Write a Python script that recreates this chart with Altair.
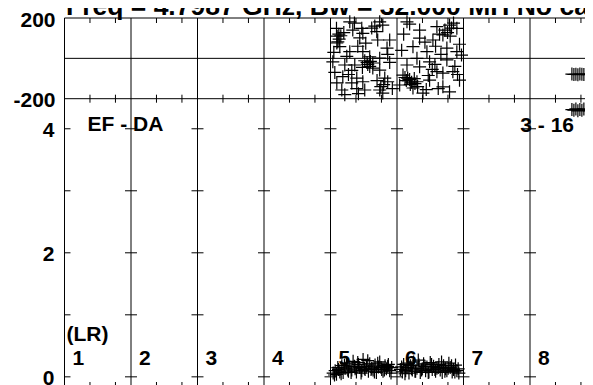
import altair as alt
import pandas as pd

FONT = "Liberation Sans"

# ---------------- data ----------------
segment_labels = ["1", "2", "3", "4", "5", "6", "7", "8"]
minor_tick_fracs = [0.383, 0.766]
amp_tick_values = [0, 1, 2, 3, 4]
amp_label_values = [0, 2, 4]
phase_label_values = [200, -200]
phase_lines = [200, 0, -200]

# (position within segment 0..1, phase in degrees)
seg5_phase = [(0.09, 149), (0.29, 181), (0.335, 140), (0.47, 149), (0.486, 124), (0.74, 181),
              (0.786, 165), (0.89, 91), (0.71, 91), (0.11, 82), (0.14, 58), (0.095, 76),
              (0.29, 33), (0.486, 33), (0.85, 51), (0.035, -17), (0.215, -33), (0.365, -33),
              (0.636, -23), (0.636, -48), (0.74, -58), (0.185, -91), (0.395, -98), (0.486, -116),
              (0.816, -98), (0.86, -116), (0.095, -122), (0.32, -122), (0.74, -157), (0.786, -172),
              (0.515, -157), (0.17, -157), (0.59, 8), (0.74, 1), (0.44, 101), (0.696, 132),
              (0.125, 120), (0.155, 112), (0.2, 128), (0.515, -12), (0.56, -30), (0.59, -40),
              (0.756, -140), (0.8, -130), (0.245, 10), (0.41, 60), (0.32, -60), (0.065, -70),
              (0.89, -20), (0.666, 160), (0.395, -150), (0.215, -180), (0.86, 20), (0.53, 75),
              (0.1, 110), (0.13, 95), (0.36, 175), (0.62, 150), (0.55, -20), (0.6, -15),
              (0.48, -45), (0.27, -80), (0.7, -110), (0.93, -150), (0.05, 30), (0.42, -175)]

seg6_phase = [(0.15, 181), (0.34, 140), (0.6, 157), (0.79, 165), (0.9, 149), (0.69, 116),
              (0.54, 91), (0.24, 58), (0.45, 33), (0.75, 51), (0.9, 33), (0.49, -17),
              (0.75, -8), (0.34, -42), (0.09, -83), (0.16, -98), (0.3, -116), (0.04, -132),
              (0.24, -147), (0.49, -108), (0.69, -73), (0.84, -66), (0.94, -108), (0.69, -141),
              (0.39, -172), (0.79, -166), (0.15, -33), (0.97, 16), (0.6, -66), (0.3, 0),
              (0.19, -105), (0.22, -118), (0.12, -95), (0.27, -125), (0.72, 140), (0.76, 128),
              (0.82, 150), (0.64, 120), (0.42, 80), (0.57, -30), (0.87, -40), (0.07, 40),
              (0.34, 100), (0.62, -150), (0.47, -85), (0.19, 170), (0.94, 70),
              (0.14, -110), (0.2, -130), (0.26, -100), (0.31, -140), (0.8, 110), (0.85, 175),
              (0.66, 20), (0.53, -55), (0.58, 60), (0.1, 120), (0.44, -155), (0.91, -80)]

seg5_amp_x = [0.04, 0.07, 0.09, 0.12, 0.14, 0.17, 0.19, 0.22, 0.24, 0.27,
              0.29, 0.32, 0.34, 0.37, 0.39, 0.42, 0.44, 0.47, 0.49, 0.52,
              0.54, 0.57, 0.59, 0.62, 0.64, 0.67, 0.69, 0.72, 0.74, 0.77,
              0.79, 0.82, 0.84, 0.87, 0.89, 0.92,
              0.06, 0.11, 0.16, 0.21, 0.26, 0.31, 0.36, 0.41, 0.46, 0.51,
              0.56, 0.61, 0.66, 0.71, 0.76, 0.81, 0.86, 0.91]
seg5_amp_y = [0.06, 0.10, 0.04, 0.12, 0.08, 0.18, 0.07, 0.14, 0.22, 0.09,
              0.16, 0.11, 0.25, 0.13, 0.08, 0.20, 0.15, 0.10, 0.28, 0.12,
              0.17, 0.09, 0.21, 0.14, 0.11, 0.19, 0.07, 0.16, 0.24, 0.12,
              0.09, 0.18, 0.13, 0.20, 0.10, 0.15,
              0.03, 0.15, 0.05, 0.19, 0.11, 0.07, 0.17, 0.23, 0.06, 0.14,
              0.26, 0.12, 0.08, 0.22, 0.15, 0.11, 0.17, 0.06]

seg6_amp_x = [0.05, 0.08, 0.10, 0.13, 0.15, 0.18, 0.20, 0.23, 0.25, 0.28,
              0.30, 0.33, 0.35, 0.38, 0.40, 0.43, 0.45, 0.48, 0.50, 0.53,
              0.55, 0.58, 0.60, 0.63, 0.65, 0.68, 0.70, 0.73, 0.75, 0.78,
              0.80, 0.83, 0.85, 0.88, 0.90, 0.93,
              0.07, 0.12, 0.17, 0.22, 0.27, 0.32, 0.37, 0.42, 0.47, 0.52,
              0.57, 0.62, 0.67, 0.72, 0.77, 0.82, 0.87, 0.92]
seg6_amp_y = [0.12, 0.08, 0.20, 0.10, 0.15, 0.06, 0.18, 0.11, 0.24, 0.09,
              0.14, 0.19, 0.07, 0.13, 0.21, 0.10, 0.16, 0.08, 0.23, 0.12,
              0.17, 0.09, 0.14, 0.20, 0.11, 0.07, 0.18, 0.13, 0.10, 0.22,
              0.15, 0.08, 0.12, 0.19, 0.10, 0.06,
              0.16, 0.05, 0.22, 0.13, 0.09, 0.27, 0.11, 0.17, 0.07, 0.20,
              0.12, 0.15, 0.24, 0.09, 0.14, 0.18, 0.08, 0.13]

seg8_x = [0.63, 0.66, 0.69, 0.72, 0.75, 0.78, 0.81, 0.84, 0.87, 0.90]
seg8_phase = [-78, -80, -79, -81, -78, -79, -80, -78, -81, -79]
seg8_amp = [4.31, 4.30, 4.32, 4.29, 4.31, 4.30, 4.32, 4.30, 4.31, 4.29]

title_text = "Freq = 4.7987 GHz, Bw = 32.000 MH   No calibration applied"
baseline_text = "EF - DA"
channel_text = "3 - 16"
stokes_text = "(LR)"

# ---------------- tables ----------------
phase_rows = ([{"pos": 4 + f, "val": v} for f, v in seg5_phase]
              + [{"pos": 5 + f, "val": v} for f, v in seg6_phase]
              + [{"pos": 7 + f, "val": v} for f, v in zip(seg8_x, seg8_phase)])
amp_rows = ([{"pos": 4 + f, "val": v} for f, v in zip(seg5_amp_x, seg5_amp_y)]
            + [{"pos": 5 + f, "val": v} for f, v in zip(seg6_amp_x, seg6_amp_y)]
            + [{"pos": 7 + f, "val": v} for f, v in zip(seg8_x, seg8_amp)])
phase_df = pd.DataFrame(phase_rows)
amp_df = pd.DataFrame(amp_rows)

n_seg = len(segment_labels)
bounds_df = pd.DataFrame({"b": list(range(n_seg + 1))})
minor_df = pd.DataFrame({"pos": [s + f for s in range(n_seg) for f in minor_tick_fracs]})
TICK_HALF = 0.09
amp_tick_df = pd.DataFrame([
    {"x1": b - (0 if b == 0 else TICK_HALF), "x2": b + TICK_HALF, "t": t}
    for b in range(n_seg) for t in amp_tick_values
])
seg_lab_df = pd.DataFrame({"pos": list(range(n_seg)), "lab": segment_labels})
phase_lines_df = pd.DataFrame({"p": phase_lines})
phase_lab_df = pd.DataFrame({"v": phase_label_values, "t": [str(v) for v in phase_label_values]})
amp_lab_df = pd.DataFrame({"v": amp_label_values, "t": [str(v) for v in amp_label_values]})

# ---------------- scales ----------------
SEG_W = 66.5
PH_H = 80.7
FULL_H = 370
x_scale = alt.Scale(domain=[0, n_seg], range=[0, n_seg * SEG_W], nice=False, zero=False)
phase_scale = alt.Scale(domain=[-200, 200], range=[PH_H, 0], nice=False, zero=False)
amp_scale = alt.Scale(domain=[-0.18, 4.485], range=[FULL_H, PH_H], nice=False, zero=False)

X = lambda f: alt.X(f, type="quantitative", scale=x_scale, axis=None)
YP = lambda f: alt.Y(f, type="quantitative", scale=phase_scale, axis=None)
YA = lambda f: alt.Y(f, type="quantitative", scale=amp_scale, axis=None)

CROSS = "M-1,0L1,0M0,-1L0,1"
txt = dict(font=FONT, fontWeight="bold", fontSize=21, color="black")

layers = []
# vertical segment boundaries (full height)
layers.append(alt.Chart(bounds_df).mark_rule(color="black", strokeWidth=1).encode(
    x=X("b"), y=alt.value(0), y2=alt.value(FULL_H)))
# horizontal lines in phase panel
layers.append(alt.Chart(phase_lines_df).mark_rule(color="black", strokeWidth=1).encode(
    y=YP("p"), x=alt.value(0), x2=alt.value(n_seg * SEG_W)))
# bottom frame
layers.append(alt.Chart(pd.DataFrame({"a": [-0.18]})).mark_rule(color="black", strokeWidth=1).encode(
    y=YA("a"), x=alt.value(0), x2=alt.value(n_seg * SEG_W)))
# minor x ticks: top, middle, bottom
for y0, y1 in [(0, 5), (PH_H - 4, PH_H + 4), (FULL_H - 6, FULL_H)]:
    layers.append(alt.Chart(minor_df).mark_rule(color="black", strokeWidth=1).encode(
        x=X("pos"), y=alt.value(y0), y2=alt.value(y1)))
# amplitude ticks on axis and segment lines
layers.append(alt.Chart(amp_tick_df).mark_rule(color="black", strokeWidth=1).encode(
    x=X("x1"), x2="x2", y=YA("t")))
# data crosses
layers.append(alt.Chart(phase_df).mark_point(shape=CROSS, size=169, filled=False, color="black",
                                             strokeWidth=1.2, opacity=1).encode(
    x=X("pos"), y=YP("val")))
layers.append(alt.Chart(amp_df).mark_point(shape=CROSS, size=169, filled=False, color="black",
                                           strokeWidth=1.2, opacity=1).encode(
    x=X("pos"), y=YA("val")))
# y labels
layers.append(alt.Chart(phase_lab_df).mark_text(align="right", baseline="middle", dx=-9, dy=2.5, **txt).encode(
    x=alt.value(0), y=YP("v"), text="t:N"))
layers.append(alt.Chart(amp_lab_df).mark_text(align="right", baseline="middle", dx=-10, dy=2.5, **txt).encode(
    x=alt.value(0), y=YA("v"), text="t:N"))
# segment numbers
layers.append(alt.Chart(seg_lab_df).mark_text(align="left", baseline="alphabetic", dx=8, **txt).encode(
    x=X("pos"), y=alt.value(347), text="lab:N"))
# annotations
ann_df = pd.DataFrame({"pos": [0, 0, 7], "t": [stokes_text, baseline_text, channel_text],
                       "kind": ["s", "b", "c"]})
layers.append(alt.Chart(ann_df).transform_filter("datum.kind == 's'").mark_text(
    align="left", baseline="alphabetic", dx=2, **txt).encode(x=X("pos"), y=alt.value(323), text="t:N"))
layers.append(alt.Chart(ann_df).transform_filter("datum.kind == 'b'").mark_text(
    align="left", baseline="alphabetic", dx=23, **txt).encode(x=X("pos"), y=alt.value(112.5), text="t:N"))
layers.append(alt.Chart(ann_df).transform_filter("datum.kind == 'c'").mark_text(
    align="right", baseline="alphabetic", dx=44, **txt).encode(x=X("pos"), y=alt.value(113.5), text="t:N"))
# title (partly cut by the top edge, as in the reference)
layers.append(alt.Chart(pd.DataFrame({"t": [title_text]})).mark_text(
    align="left", baseline="alphabetic", font=FONT, fontWeight="bold", fontSize=26.5, color="black").encode(
    x=alt.value(1.5), y=alt.value(-3), text="t:N"))

chart = alt.layer(*layers).resolve_scale(y="independent").properties(
    width=520.5, height=367,
    autosize=alt.AutoSizeParams(type="none"),
    padding={"left": 56.5, "top": 10, "right": 0, "bottom": 0},
    background="white",
).configure_view(strokeWidth=0)

chart.save("out.html", embed_options={"renderer": "svg", "actions": False})
